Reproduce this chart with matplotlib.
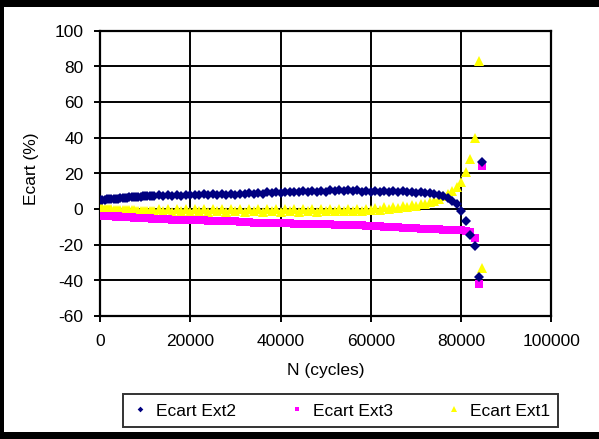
import matplotlib
matplotlib.use("Agg")
import matplotlib.pyplot as plt
from matplotlib.patches import Rectangle

plt.rcParams['font.family'] = ['Liberation Sans', 'DejaVu Sans']

# ---- data ----
N = [0, 500, 1000, 1500, 2000, 2500, 3000, 3500, 4000, 4500, 5000, 5500, 6000,
     6500, 7000, 7500, 8000, 8500, 9000, 9500, 10000, 10500, 11000, 11500, 12000,
     13000, 14000, 15000, 16000, 17000, 18000, 19000, 20000, 21000, 22000,
     23000, 24000, 25000, 26000, 27000, 28000, 29000, 30000,
     31000, 32000, 33000, 34000, 35000, 36000, 37000, 38000, 39000, 40000,
     41000, 42000, 43000, 44000, 45000, 46000, 47000, 48000, 49000, 50000,
     51000, 52000, 53000, 54000, 55000, 56000, 57000, 58000, 59000, 60000,
     61000, 62000, 63000, 64000, 65000, 66000, 67000, 68000, 69000, 70000,
     71000, 72000, 73000, 74000, 75000, 76000, 77000, 78000, 79000, 80000,
     81000, 82000, 83000, 84000, 84700]

ecart_ext2 = [5.0, 5.2, 5.1, 5.4, 5.3, 5.6, 5.5, 5.8, 5.7, 6.0, 6.0, 6.3, 6.2,
              6.5, 6.4, 6.7, 6.7, 6.9, 6.9, 7.1, 7.0, 7.3, 7.2, 7.4, 7.3,
              7.6, 7.2, 7.7, 7.3, 7.8, 7.4, 7.9, 7.5, 8.0, 7.6,
              8.1, 7.7, 8.2, 7.8, 8.3, 7.9, 8.4, 8.0,
              8.6, 8.2, 8.8, 8.4, 9.0, 8.6, 9.2, 8.8, 9.4, 9.0,
              9.6, 9.2, 9.7, 9.3, 9.8, 9.4, 9.9, 9.5, 10.1, 9.7,
              10.4, 10.0, 10.8, 10.2, 10.4, 9.8, 10.3, 9.7, 10.2, 9.6,
              10.1, 9.6, 10.0, 9.5, 9.9, 9.4, 9.8, 9.3, 9.6, 9.1,
              9.3, 8.8, 8.9, 8.4, 8.0, 7.2, 6.0, 4.5, 2.5, -1.0,
              -7.0, -14.5, -20.8, -38.0, 26.0]

ecart_ext3 = [-3.8, -4.0, -3.9, -4.1, -4.0, -4.2, -4.1, -4.3, -4.2, -4.4, -4.4, -4.6, -4.5,
              -4.7, -4.7, -4.9, -4.9, -5.0, -5.0, -5.2, -5.2, -5.3, -5.3, -5.5, -5.5,
              -5.7, -5.8, -5.9, -6.0, -6.0, -6.1, -6.2, -6.2, -6.4, -6.4,
              -6.5, -6.6, -6.6, -6.7, -6.8, -6.8, -6.9, -7.0,
              -7.2, -7.4, -7.6, -7.7, -7.8, -7.8, -7.9, -8.0, -8.0, -8.1,
              -8.2, -8.2, -8.3, -8.4, -8.4, -8.5, -8.5, -8.6, -8.6, -8.7,
              -8.7, -8.8, -8.8, -8.9, -8.9, -9.0, -9.0, -9.2, -9.4, -9.6,
              -9.7, -9.8, -9.9, -10.0, -10.0, -10.3, -10.5, -10.6, -10.8, -11.0,
              -11.1, -11.2, -11.3, -11.4, -11.5, -11.6, -11.6, -11.7, -11.8, -12.0,
              -12.3, -13.0, -16.3, -42.0, 24.0]

ecart_ext1 = [2.5, 0.5, 0.2, 0.0, -0.2, -0.3, -0.4, -0.5, -0.6, -0.6, -0.7, -0.7, -0.8,
              -0.8, -0.9, -0.9, -1.0, -1.0, -1.0, -1.1, -1.1, -1.1, -1.2, -1.2, -1.2,
              -0.3, -1.4, -0.3, -1.5, -0.2, -1.4, -0.3, -1.5, -0.2, -1.4,
              -0.3, -1.5, -0.2, -1.4, -0.3, -1.5, -0.2, -1.4,
              -0.3, -1.5, -0.2, -1.4, -0.3, -1.5, -0.2, -1.4, -0.3, -1.5,
              -0.2, -1.4, -0.3, -1.5, -0.2, -1.4, -0.3, -1.5, -0.2, -1.4,
              -0.3, -1.4, -0.2, -1.3, -0.1, -1.2, 0.0, -1.0, 0.2, -0.8,
              0.5, -0.5, 0.8, 0.0, 1.2, 0.5, 1.8, 1.0, 2.4, 1.7,
              3.0, 2.6, 3.8, 4.5, 5.5, 7.0, 8.5, 10.0, 12.5, 15.0,
              20.5, 28.0, 39.7, 82.7, -33.0]

x_ticks = [0, 20000, 40000, 60000, 80000, 100000]
y_ticks = [-60, -40, -20, 0, 20, 40, 60, 80, 100]

# ---- figure ----
fig = plt.figure(figsize=(5.995, 4.395), dpi=100)
fig.patch.set_facecolor('white')
ax = fig.add_axes([100/599, 1 - 316/439, 451/599, 285/439])

ax.plot(N, ecart_ext1, linestyle='none', marker='^', markersize=6.5,
        color='#FFFF00', markeredgewidth=0, label='Ecart Ext1', zorder=3)
ax.plot(N, ecart_ext3, linestyle='none', marker='s', markersize=5.2,
        color='#FF00FF', markeredgewidth=0, label='Ecart Ext3', zorder=4)
ax.plot(N, ecart_ext2, linestyle='none', marker='D', markersize=4.8,
        color='#000080', markeredgewidth=0, label='Ecart Ext2', zorder=5)

ax.set_xlim(0, 100000)
ax.set_ylim(-60, 100)
ax.set_xticks(x_ticks)
ax.set_yticks(y_ticks)
ax.set_xticklabels([str(v) for v in x_ticks])
ax.set_yticklabels([str(v) for v in y_ticks])
ax.grid(True, color='black', linewidth=1.4)
ax.set_axisbelow(True)
for s in ax.spines.values():
    s.set_color('black')
    s.set_linewidth(1.6)
ax.tick_params(axis='both', direction='out', length=4, width=1.4,
               color='black', labelsize=12.5, labelcolor='black')
ax.tick_params(axis='y', pad=8)
ax.tick_params(axis='x', pad=9)

fig.text(325/599, 1 - 370/439, 'N (cycles)', ha='center', va='center', fontsize=12.5)
fig.text(31/599, 1 - 169/439, 'Ecart (%)', ha='center', va='center',
         rotation=90, fontsize=12.5)

handles, labels = ax.get_legend_handles_labels()
order = [2, 1, 0]
leg = fig.legend([handles[i] for i in order], [labels[i] for i in order],
                 loc='center', ncol=3, mode='expand',
                 bbox_to_anchor=(123/599, 9/439, 435/599, 39/439),
                 bbox_transform=fig.transFigure, fontsize=12.5,
                 frameon=True, fancybox=False, edgecolor='black',
                 markerscale=0.6, handlelength=1.0, handletextpad=0.4,
                 borderaxespad=0, borderpad=0.5)
leg.get_frame().set_linewidth(1.4)

# outer frame: black on top, left and bottom; white at the right edge
fig.add_artist(Rectangle((590/599, 0), 9/599, 1, transform=fig.transFigure,
                         facecolor='white', edgecolor='none', zorder=50))
fig.add_artist(Rectangle((0, 1 - 7/439), 1, 7/439, transform=fig.transFigure,
                         facecolor='black', edgecolor='none', zorder=60))
fig.add_artist(Rectangle((0, 0), 4/599, 1, transform=fig.transFigure,
                         facecolor='black', edgecolor='none', zorder=60))
fig.add_artist(Rectangle((0, 0), 1, 7/439, transform=fig.transFigure,
                         facecolor='black', edgecolor='none', zorder=60))

fig.savefig('out.png', dpi=100)
